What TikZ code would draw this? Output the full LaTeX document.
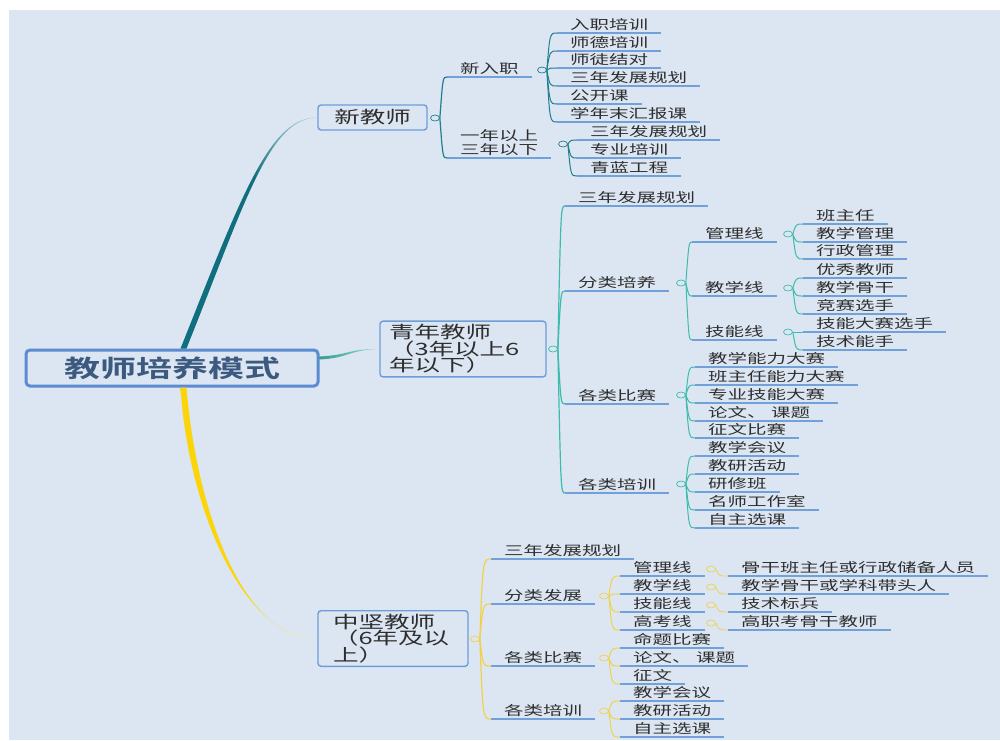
\documentclass[tikz,border=0pt]{standalone}
\usepackage{fontspec}
\newfontfamily\cjk[FakeStretch=1.5,BoldFont={Noto Sans CJK SC Bold}]{Noto Sans CJK SC}
\usetikzlibrary{calc,shapes.geometric}
\definecolor{bg}{HTML}{DCE6F2}
\definecolor{ink}{HTML}{2E2E2E}
\definecolor{rootink}{HTML}{3C5A80}
\definecolor{rootline}{HTML}{5B8BD0}
\definecolor{boxline}{HTML}{6D9ED8}
\definecolor{ulc}{HTML}{72A0D8}
\definecolor{newc}{HTML}{1F7F8E}
\definecolor{newdark}{HTML}{0F6F7F}
\definecolor{newlight}{HTML}{A3CBD3}
\definecolor{youngc}{HTML}{3DBBAC}
\definecolor{midc}{HTML}{F0D24A}
\definecolor{midthick}{HTML}{FCD40A}
\definecolor{midlight}{HTML}{F6EBB4}
\pgfdeclareverticalshading{newfade}{100bp}{color(0bp)=(newdark); color(25bp)=(newdark);
  color(62bp)=(newdark); color(75bp)=(newlight); color(100bp)=(newlight)}
\pgfdeclareverticalshading{midfade}{100bp}{color(0bp)=(midlight); color(25bp)=(midlight);
  color(30bp)=(midthick); color(100bp)=(midthick)}
\begin{document}
\begin{tikzpicture}
[x=1pt,y=-1pt,
  every node/.style={font=\cjk\fontsize{13}{14.5}\selectfont,text=ink},
  uline/.style={draw=ulc,line width=1.6pt},
  topic/.style={anchor=south west,inner xsep=13pt,inner ysep=2pt,align=left,
    append after command={(\tikzlastnode.south west) edge[uline] (\tikzlastnode.south east)}},
  mainbox/.style={draw=boxline,line width=1.4pt,rounded corners=3pt,fill=bg,
    font=\cjk\fontsize{17}{16.5}\selectfont,align=left},
  rootbox/.style={draw=rootline,line width=3pt,rounded corners=4pt,fill=bg,
    minimum width=292pt,minimum height=36pt,text=rootink,
    font=\cjk\bfseries\fontsize{24}{26}\selectfont},
  dot/.style={ellipse,draw,fill=bg,line width=0.7pt,minimum width=9pt,
    minimum height=6pt,inner sep=0pt},
  fan/.style={to path={.. controls ($(\tikztostart|-\tikztotarget)+(3,0)$) .. (\tikztotarget)}}]
\fill[white] (0,0) rectangle (1000,740);
\fill[bg] (9,10) rectangle (1000,740);
\useasboundingbox (0,0) rectangle (1000,740);

\node[rootbox] (root) at (172,368) {教师培养模式};
\node[mainbox,minimum width=109pt,minimum height=25pt,align=center] (new) at (372.5,117.5) {新教师};
\node[mainbox,text width=148pt,inner xsep=9pt,minimum height=54pt] (young) at (463,349) {青年教师\\（3年以上6\\年以下）};
\node[mainbox,text width=120pt,inner xsep=15pt,minimum height=53pt] (mid) at (393,638.5) {中坚教师\\（6年及以\\上）};
\node[dot,draw=newc] (cnew) at (435,118) {};
\node[dot,draw=youngc] (cyoung) at (553,349) {};
\node[dot,draw=midc] (cmid) at (475,639) {};

\node[topic] (nj) at (447,77) {新入职};
\node[topic] (ny) at (447,158) {一年以上\\三年以下};
\node[dot,draw=newc] (cnj) at (542,70) {};
\node[dot,draw=newc] (cny) at (563,144) {};
\node[topic] (nj1) at (557,33) {入职培训};
\node[topic] (nj2) at (557,51) {师德培训};
\node[topic] (nj3) at (557,68) {师徒结对};
\node[topic] (nj4) at (557,86) {三年发展规划};
\node[topic] (nj5) at (557,104) {公开课};
\node[topic] (nj6) at (557,122) {学年末汇报课};
\node[topic] (ny1) at (577,140) {三年发展规划};
\node[topic] (ny2) at (577,158) {专业培训};
\node[topic] (ny3) at (577,176) {青蓝工程};

\node[topic] (yplan) at (565,206) {三年发展规划};
\node[topic] (ytrain) at (565,291) {分类培养};
\node[topic] (ycomp) at (565,404) {各类比赛};
\node[topic] (ycourse) at (565,493) {各类培训};
\node[dot,draw=youngc] (cytrain) at (681,283) {};
\node[dot,draw=youngc] (cycomp) at (681,395) {};
\node[dot,draw=youngc] (cycourse) at (681,484) {};
\node[topic] (ymgmt) at (692,242) {管理线};
\node[topic] (yteach) at (692,296) {教学线};
\node[topic] (yskill) at (692,340) {技能线};
\node[dot,draw=youngc] (cymgmt) at (788,234) {};
\node[dot,draw=youngc] (cyteach) at (788,288) {};
\node[dot,draw=youngc] (cyskill) at (788,332) {};
\node[topic] (ymgmt1) at (803,224) {班主任};
\node[topic] (ymgmt2) at (803,242) {教学管理};
\node[topic] (ymgmt3) at (803,259) {行政管理};
\node[topic] (yteach1) at (803,278) {优秀教师};
\node[topic] (yteach2) at (803,296) {教学骨干};
\node[topic] (yteach3) at (803,314) {竞赛选手};
\node[topic] (yskill1) at (803,332) {技能大赛选手};
\node[topic] (yskill2) at (803,350) {技术能手};
\node[topic] (ycomp1) at (695,367) {教学能力大赛};
\node[topic] (ycomp2) at (695,385) {班主任能力大赛};
\node[topic] (ycomp3) at (695,403) {专业技能大赛};
\node[topic] (ycomp4) at (695,421) {论文、 课题};
\node[topic] (ycomp5) at (695,438) {征文比赛};
\node[topic] (ycourse1) at (695,456) {教学会议};
\node[topic] (ycourse2) at (695,474) {教研活动};
\node[topic] (ycourse3) at (695,492) {研修班};
\node[topic] (ycourse4) at (695,510) {名师工作室};
\node[topic] (ycourse5) at (695,528) {自主选课};

\node[topic] (mplan) at (491,559) {三年发展规划};
\node[topic] (mdev) at (491,604) {分类发展};
\node[topic] (mcomp) at (491,666) {各类比赛};
\node[topic] (mcourse) at (491,719) {各类培训};
\node[dot,draw=midc] (cmdev) at (604,596) {};
\node[dot,draw=midc] (cmcomp) at (604,658) {};
\node[dot,draw=midc] (cmcourse) at (604,711) {};
\node[topic] (mdev1) at (620,576) {管理线};
\node[topic] (mdev2) at (620,594) {教学线};
\node[topic] (mdev3) at (620,612) {技能线};
\node[topic] (mdev4) at (620,630) {高考线};
\node[dot,draw=midc] (cmdev1) at (711,569) {};
\node[dot,draw=midc] (cmdev2) at (711,587) {};
\node[dot,draw=midc] (cmdev3) at (711,605) {};
\node[dot,draw=midc] (cmdev4) at (711,623) {};
\node[topic] (mgoal1) at (728,576) {骨干班主任或行政储备人员};
\node[topic] (mgoal2) at (728,594) {教学骨干或学科带头人};
\node[topic] (mgoal3) at (728,612) {技术标兵};
\node[topic] (mgoal4) at (728,630) {高职考骨干教师};
\node[topic] (mcomp1) at (620,648) {命题比赛};
\node[topic] (mcomp2) at (620,666) {论文、 课题};
\node[topic] (mcomp3) at (620,684) {征文};
\node[topic] (mcourse1) at (620,701) {教学会议};
\node[topic] (mcourse2) at (620,719) {教研活动};
\node[topic] (mcourse3) at (620,737) {自主选课};

\shade[shading=newfade]
  ($(root.north)+(8.5,0)$) .. controls ($(root.north)+(68.5,-150)$) and ($(new.west)+(-48,-1)$) .. (new.west)
  .. controls ($(new.west)+(-48,1)$) and ($(root.north)+(74.5,-150)$) .. ($(root.north)+(14.5,0)$) -- cycle;
\shade[left color=youngc!85!black,right color=youngc!55!white]
  ($(root.east)+(0,-11.5)$) .. controls ($(root.east)+(30,-13)$) and ($(young.west)+(-30,-0.5)$) .. (young.west)
  .. controls ($(young.west)+(-30,0.5)$) and ($(root.east)+(30,-10)$) .. ($(root.east)+(0,-8.5)$) -- cycle;
\shade[shading=midfade]
  ($(root.south)+(8.5,0)$) .. controls ($(root.south)+(15.5,113)$) and ($(mid.west)+(-78,-1)$) .. (mid.west)
  .. controls ($(mid.west)+(-78,1)$) and ($(root.south)+(23.5,113)$) .. ($(root.south)+(14.5,0)$) -- cycle;

\draw[newc,line width=1.2pt] (cnew.east) edge[fan] (nj.south west) edge[fan] (ny.south west);
\draw[newc,line width=1pt] (cnj.east) edge[fan] (nj1.south west) edge[fan] (nj2.south west)
  edge[fan] (nj3.south west) edge[fan] (nj4.south west) edge[fan] (nj5.south west)
  edge[fan] (nj6.south west);
\draw[newc,line width=1pt] (cny.east) edge[fan] (ny1.south west) edge[fan] (ny2.south west)
  edge[fan] (ny3.south west);

\draw[youngc,line width=1.2pt] (cyoung.east) edge[fan] (yplan.south west) edge[fan] (ytrain.south west)
  edge[fan] (ycomp.south west) edge[fan] (ycourse.south west);
\draw[youngc,line width=1pt] (cytrain.east) edge[fan] (ymgmt.south west) edge[fan] (yteach.south west)
  edge[fan] (yskill.south west);
\draw[youngc,line width=1pt] (cymgmt.east) edge[fan] (ymgmt1.south west) edge[fan] (ymgmt2.south west)
  edge[fan] (ymgmt3.south west);
\draw[youngc,line width=1pt] (cyteach.east) edge[fan] (yteach1.south west) edge[fan] (yteach2.south west)
  edge[fan] (yteach3.south west);
\draw[youngc,line width=1pt] (cyskill.east) edge[fan] (yskill1.south west) edge[fan] (yskill2.south west);
\draw[youngc,line width=1pt] (cycomp.east) edge[fan] (ycomp1.south west) edge[fan] (ycomp2.south west)
  edge[fan] (ycomp3.south west) edge[fan] (ycomp4.south west) edge[fan] (ycomp5.south west);
\draw[youngc,line width=1pt] (cycourse.east) edge[fan] (ycourse1.south west) edge[fan] (ycourse2.south west)
  edge[fan] (ycourse3.south west) edge[fan] (ycourse4.south west) edge[fan] (ycourse5.south west);

\draw[midc,line width=1.2pt] (cmid.east) edge[fan] (mplan.south west) edge[fan] (mdev.south west)
  edge[fan] (mcomp.south west) edge[fan] (mcourse.south west);
\draw[midc,line width=1pt] (cmdev.east) edge[fan] (mdev1.south west) edge[fan] (mdev2.south west)
  edge[fan] (mdev3.south west) edge[fan] (mdev4.south west);
\draw[midc,line width=0.8pt] (cmdev1.east) edge[fan] (mgoal1.south west);
\draw[midc,line width=0.8pt] (cmdev2.east) edge[fan] (mgoal2.south west);
\draw[midc,line width=0.8pt] (cmdev3.east) edge[fan] (mgoal3.south west);
\draw[midc,line width=0.8pt] (cmdev4.east) edge[fan] (mgoal4.south west);
\draw[midc,line width=1pt] (cmcomp.east) edge[fan] (mcomp1.south west) edge[fan] (mcomp2.south west)
  edge[fan] (mcomp3.south west);
\draw[midc,line width=1pt] (cmcourse.east) edge[fan] (mcourse1.south west) edge[fan] (mcourse2.south west)
  edge[fan] (mcourse3.south west);
\end{tikzpicture}
\end{document}
